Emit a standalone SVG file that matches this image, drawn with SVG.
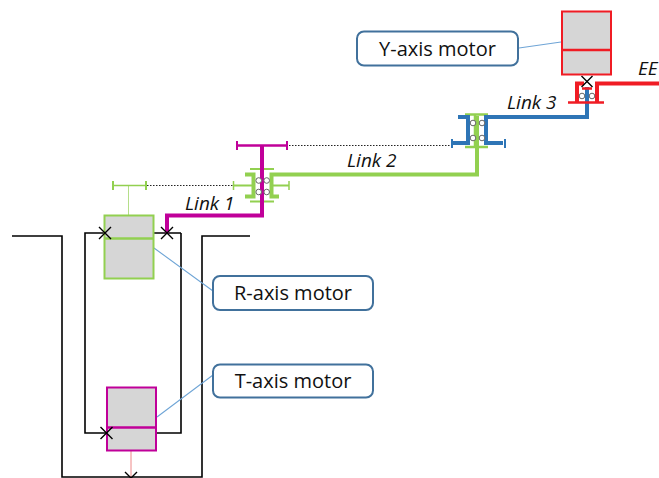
<svg xmlns="http://www.w3.org/2000/svg" width="659" height="478" viewBox="0 0 659 478">
<style>
.blk{fill:none;stroke:#000;stroke-width:1.6}
.x{fill:none;stroke:#000;stroke-width:1.4}
.mot{fill:#d6d6d6;stroke-width:2}
.lead{fill:none;stroke:#6fa5d6;stroke-width:1.1}
.dot{fill:none;stroke:#222;stroke-width:1;stroke-dasharray:1.5 1.5}
.brg{fill:#fff;stroke:#666;stroke-width:1}
.g{fill:none;stroke:#92d050}
.m{fill:none;stroke:#c00099}
.b{fill:none;stroke:#2e75b6}
.r{fill:none;stroke:#f01c24}
.lbl{fill:#fff;stroke:#41719c;stroke-width:2}
text{font-family:"Open Sans","Liberation Sans",sans-serif;fill:#111}
.t{font-size:20px}
.i{font-size:19px;font-style:italic}
</style>
<rect width="659" height="478" fill="#fff"/>
<g id="connectors">
<path class="blk" d="M12 236H62V477H202V236H250"/>
<path class="blk" d="M181 233H85V433H181V233"/>
<path d="M131 450V477" fill="none" stroke="#e88" stroke-width="1"/>
<path d="M128.500 215V185" fill="none" stroke="#b5de8a" stroke-width="1"/>
<path class="g" stroke-width="1.500" d="M113 185.500H146"/>
<path class="g" stroke-width="2" d="M113 181V190M146 181V190"/>
<path class="dot" d="M147 185.500H233M289 145.500H451"/>
<path class="lead" d="M154 248L213 291M157 417L213 375M519 48L561 42"/>
<path class="g" stroke-width="2" d="M250 169H274M250 201.500H274M233 185.500H253M271 185.500H289"/>
<path class="g" stroke-width="1.500" d="M233.500 181V190M289 181V190"/>
<path class="g" stroke-width="4" d="M245 174.500H253.500V196.500H245M279 196.500H271.500V174.500H477V116"/>
<path class="m" stroke-width="4" d="M167 233V215.500H262V146"/>
<path class="m" stroke-width="2.500" d="M237 145.500H287"/>
<path class="m" stroke-width="2" d="M237 141V150M287 141V150"/>
<circle class="brg" cx="258.700" cy="180.500" r="2.800"/><circle class="brg" cx="266.700" cy="180.500" r="2.800"/>
<circle class="brg" cx="258.700" cy="192" r="2.800"/><circle class="brg" cx="266.700" cy="192" r="2.800"/>
<path class="g" stroke-width="2.500" d="M465 114.500H488M465 147H488M475 115V146"/>
<path class="b" stroke-width="4" d="M458 117H468V143H452M503 143H486V117H587V87"/>
<path class="b" stroke-width="2" d="M452 139V148M505 139V148"/>
<circle class="brg" cx="473" cy="123" r="2.800"/><circle class="brg" cx="482" cy="123" r="2.800"/>
<circle class="brg" cx="473" cy="138" r="2.800"/><circle class="brg" cx="482" cy="138" r="2.800"/>
<path class="r" stroke-width="4" d="M577 102V83.500H584M597 102V83.500H659"/>
<path class="r" stroke-width="2.500" d="M568 102.500H604M582 88.500H592"/>
<circle class="brg" cx="582" cy="96" r="2.800"/><circle class="brg" cx="592" cy="96" r="2.800"/>
</g>
<g id="r-motor"><rect class="mot" x="104.500" y="215.500" width="49" height="63" stroke="#92d050"/><path d="M104 238.500H154" stroke="#92d050" stroke-width="2.500"/></g>
<g id="t-motor"><rect class="mot" x="107" y="387.500" width="49" height="63" stroke="#c00099"/><path d="M107 427.500H156" stroke="#c00099" stroke-width="2.500"/></g>
<g id="y-motor"><rect class="mot" x="562" y="11.500" width="49" height="63" stroke="#f01c24"/><path d="M562 50H611" stroke="#f01c24" stroke-width="2.500"/></g>
<g id="joints">
<path class="x" d="M99 227L111 239M111 227L99 239M161 227L173 239M173 227L161 239M100.500 427L112.500 439M112.500 427L100.500 439M125 472L131 478L137 472M581.500 76L592.500 87M592.500 76L581.500 87"/>
</g>
<g id="y-label"><rect class="lbl" x="357" y="31.500" width="161" height="34" rx="7"/><text class="t" x="437.500" y="56" text-anchor="middle">Y-axis motor</text></g>
<g id="r-label"><rect class="lbl" x="213" y="276" width="160" height="34" rx="7"/><text class="t" x="293" y="300" text-anchor="middle">R-axis motor</text></g>
<g id="t-label"><rect class="lbl" x="213" y="364.500" width="160" height="33" rx="7"/><text class="t" x="293" y="388" text-anchor="middle">T-axis motor</text></g>
<g id="link-labels">
<text class="i" x="185" y="210">Link 1</text>
<text class="i" x="347" y="167">Link 2</text>
<text class="i" x="507" y="109">Link 3</text>
<text class="i" x="638" y="75">EE</text>
</g>
</svg>
